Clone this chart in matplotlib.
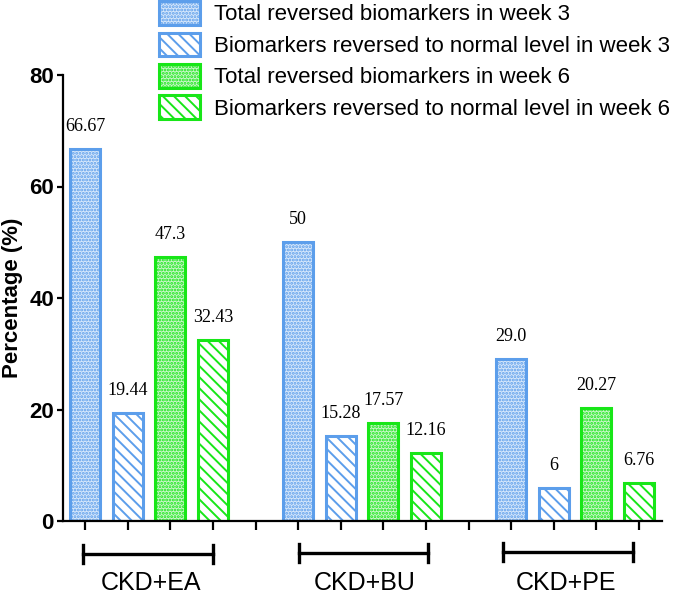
import numpy as np
import matplotlib
matplotlib.use("Agg")
import matplotlib.pyplot as plt
from matplotlib.transforms import blended_transform_factory

# donnees
groupes = ["CKD+EA", "CKD+BU", "CKD+PE"]
series = ["Total reversed biomarkers in week 3",
          "Biomarkers reversed to normal level in week 3",
          "Total reversed biomarkers in week 6",
          "Biomarkers reversed to normal level in week 6"]
total_s3 = [66.67, 50, 29.0]
normal_s3 = [19.44, 15.28, 6]
total_s6 = [47.3, 17.57, 20.27]
normal_s6 = [32.43, 12.16, 6.76]
etiquettes = [["66.67", "50", "29.0"],
              ["19.44", "15.28", "6"],
              ["47.3", "17.57", "20.27"],
              ["32.43", "12.16", "6.76"]]

bleu = "#5C9EEB"
vert = "#18E618"
couleurs = [bleu, bleu, vert, vert]
fonds = ["#D6E7FB", "white", "#C9F7C9", "white"]
hachures = [".....", "\\\\\\", ".....", "\\\\\\"]

plt.rcParams['font.family'] = ['Liberation Sans', 'DejaVu Sans']
plt.rcParams['hatch.linewidth'] = 1.4

fig = plt.figure(figsize=(6.75, 5.95), dpi=100)
ax = fig.add_axes([63/675, 1-521/595, 599/675, 446/595])

valeurs = [total_s3, normal_s3, total_s6, normal_s6]
for k, vals in enumerate(valeurs):
    x = np.arange(len(groupes))*5 + k
    ax.bar(x, vals, width=0.7, facecolor=fonds[k], edgecolor=couleurs[k],
           hatch=hachures[k], linewidth=2.2, label=series[k])
    for xi, v, txt in zip(x, vals, etiquettes[k]):
        ax.annotate(txt, (xi, v), xytext=(0, 10), textcoords="offset points",
                    ha="center", va="bottom", fontsize=13, family="Liberation Serif")

ax.set_xlim(-0.52, 13.54)
ax.set_ylim(0, 80)
ax.set_yticks([0, 20, 40, 60, 80])
ax.set_xticks(np.arange(14))
ax.set_xticklabels([])
for s in ["top", "right"]:
    ax.spines[s].set_visible(False)
for s in ["left", "bottom"]:
    ax.spines[s].set_linewidth(1.6)
ax.tick_params(axis="y", length=4.5, width=1.6, labelsize=16, pad=2)
ax.tick_params(axis="x", length=6.5, width=1.6)
for lab in ax.get_yticklabels():
    lab.set_fontweight("bold")
ax.set_ylabel("Percentage (%)", fontsize=16, fontweight="bold")
ax.yaxis.set_label_coords(-0.067, 0.5)

# crochets des groupes sous l'axe
trans = blended_transform_factory(ax.transData, ax.transAxes)
crochets = [(-0.05, 3.0), (5.02, 8.05), (9.81, 12.86)]
y_crochet = [-0.074, -0.072, -0.070]
centres = [1.55, 6.57, 11.29]
for (a, b), yc, c, nom in zip(crochets, y_crochet, centres, groupes):
    ax.plot([a, b], [yc, yc], color="black", lw=2.4, transform=trans, clip_on=False)
    for xe in (a, b):
        ax.plot([xe, xe], [yc-0.02, yc+0.02], color="black", lw=2.4,
                transform=trans, clip_on=False)
    ax.text(c, -0.139, nom, transform=trans, ha="center", va="center", fontsize=18)

fig.legend(loc="upper left", bbox_to_anchor=(158/675, 1.0), frameon=False,
           fontsize=16, handlelength=1.85, handleheight=1.26, handletextpad=0.63,
           labelspacing=0.32, borderpad=0.05, borderaxespad=0)

fig.savefig("out.png", dpi=100)
